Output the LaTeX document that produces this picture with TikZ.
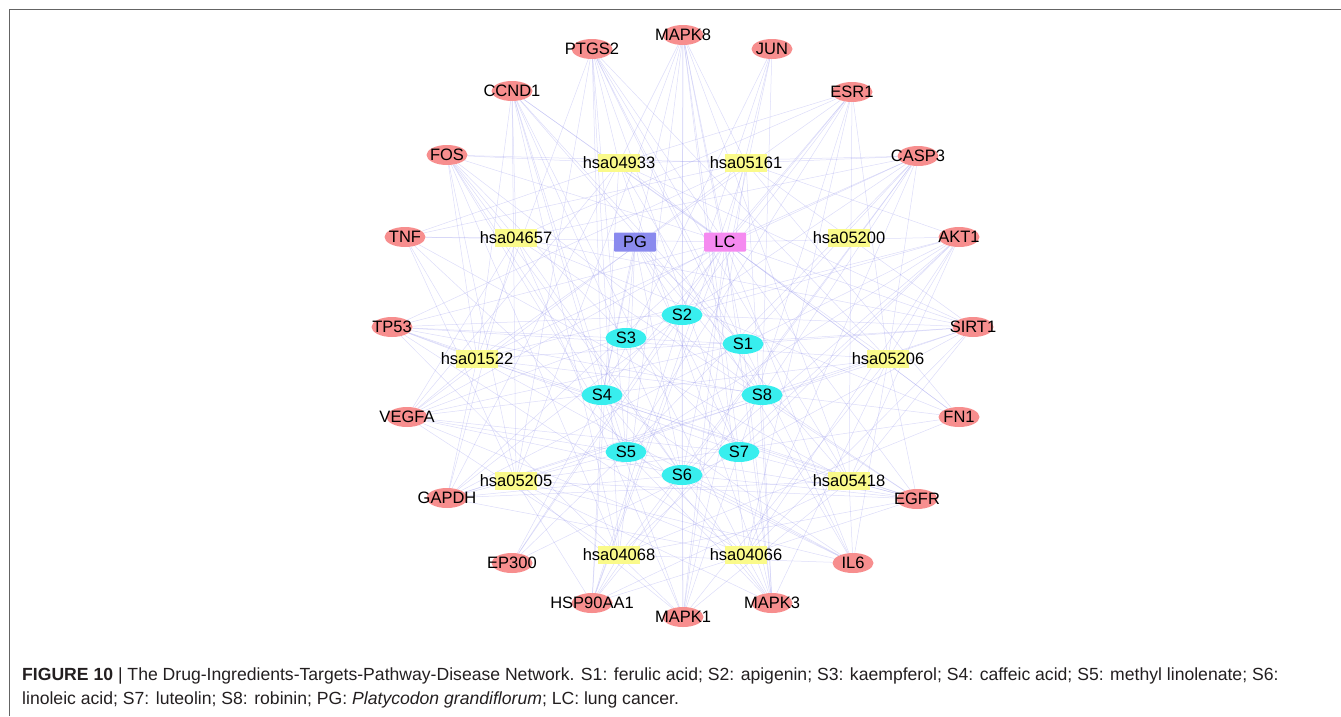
\documentclass[tikz,border=0pt]{standalone}
\usepackage{fontspec}
\setmainfont{Liberation Sans}
\usetikzlibrary{shapes.geometric,backgrounds}
\definecolor{tgtc}{RGB}{247,142,142}
\definecolor{ingc}{RGB}{56,238,238}
\definecolor{pathc}{RGB}{250,250,138}
\definecolor{pgc}{RGB}{138,138,238}
\definecolor{lcc}{RGB}{245,138,240}
\definecolor{edgec}{RGB}{150,150,235}
\definecolor{framec}{RGB}{100,100,100}
\definecolor{capc}{RGB}{35,31,32}
\newcommand{\nlbl}[1]{\makebox[0pt]{#1}}
\tikzset{
  tgt/.style={ellipse, fill=tgtc, minimum width=41pt, minimum height=20pt, inner sep=0pt},
  ing/.style={ellipse, fill=ingc, minimum width=41pt, minimum height=20pt, inner sep=0pt},
  pth/.style={rectangle, fill=pathc, minimum width=42pt, minimum height=18pt, inner sep=0pt},
  hub/.style={rectangle, rounded corners=1pt, minimum width=42pt, minimum height=19pt, inner sep=0pt},
  lnk/.style={draw=edgec, draw opacity=0.33, line width=0.5pt},
  capt/.style={anchor=base west, inner sep=0pt, text=capc, font=\fontsize{17.6}{20}\selectfont},
  framel/.style={draw=framec, line width=1.3pt}
}
\begin{document}
\begin{tikzpicture}[x=1pt, y=-1pt, font=\fontsize{16.5}{18}\selectfont]
\useasboundingbox (0,0) rectangle (1341,716);
\draw[framel] (9.5,716) -- (9.5,9.5) -- (1341,9.5);
% targets
\node[tgt] (t1) at (683,35) {\nlbl{MAPK8}};
\node[tgt] (t2) at (772,49) {\nlbl{JUN}};
\node[tgt] (t3) at (852,92) {\nlbl{ESR1}};
\node[tgt] (t4) at (918,156) {\nlbl{CASP3}};
\node[tgt] (t5) at (959,237) {\nlbl{AKT1}};
\node[tgt] (t6) at (973,327) {\nlbl{SIRT1}};
\node[tgt] (t7) at (959,417) {\nlbl{FN1}};
\node[tgt] (t8) at (917,499) {\nlbl{EGFR}};
\node[tgt] (t9) at (853,563) {\nlbl{IL6}};
\node[tgt] (t10) at (772,603) {\nlbl{MAPK3}};
\node[tgt] (t11) at (683,617) {\nlbl{MAPK1}};
\node[tgt] (t12) at (592,603) {\nlbl{HSP90AA1}};
\node[tgt] (t13) at (512,563) {\nlbl{EP300}};
\node[tgt] (t14) at (447,498) {\nlbl{GAPDH}};
\node[tgt] (t15) at (407,417) {\nlbl{VEGFA}};
\node[tgt] (t16) at (392,327) {\nlbl{TP53}};
\node[tgt] (t17) at (405,237) {\nlbl{TNF}};
\node[tgt] (t18) at (447,155) {\nlbl{FOS}};
\node[tgt] (t19) at (512,91) {\nlbl{CCND1}};
\node[tgt] (t20) at (592,49) {\nlbl{PTGS2}};
% pathways
\node[pth] (p1) at (619,163) {\nlbl{hsa04933}};
\node[pth] (p2) at (746,163) {\nlbl{hsa05161}};
\node[pth] (p3) at (849,238) {\nlbl{hsa05200}};
\node[pth] (p4) at (888,359) {\nlbl{hsa05206}};
\node[pth] (p5) at (849,481) {\nlbl{hsa05418}};
\node[pth] (p6) at (746,555) {\nlbl{hsa04066}};
\node[pth] (p7) at (619,555) {\nlbl{hsa04068}};
\node[pth] (p8) at (516,481) {\nlbl{hsa05205}};
\node[pth] (p9) at (477,359) {\nlbl{hsa01522}};
\node[pth] (p10) at (516,238) {\nlbl{hsa04657}};
% ingredients
\node[ing] (s1) at (743,344) {\nlbl{S1}};
\node[ing] (s2) at (682,315) {\nlbl{S2}};
\node[ing] (s3) at (626,338) {\nlbl{S3}};
\node[ing] (s4) at (602,395) {\nlbl{S4}};
\node[ing] (s5) at (626,452) {\nlbl{S5}};
\node[ing] (s6) at (682,475) {\nlbl{S6}};
\node[ing] (s7) at (739,452) {\nlbl{S7}};
\node[ing] (s8) at (762,395) {\nlbl{S8}};
% hubs
\node[hub, fill=pgc] (pg) at (635,242) {\nlbl{PG}};
\node[hub, fill=lcc] (lc) at (725,242) {\nlbl{LC}};
% edges
\begin{scope}[on background layer]
\foreach \j in {1,...,8} { \draw[lnk] (pg) -- (s\j); }
\foreach \i in {1,...,20} { \draw[lnk] (lc) -- (t\i); }
\foreach \i in {1,...,20} {
  \foreach \j in {1,...,8} {
    \pgfmathtruncatemacro\rr{mod(7*\i+3*\j+\i*\j,10)}
    \ifnum\rr<6 \draw[lnk] (t\i) -- (s\j); \fi
  }
  \foreach \k in {1,...,10} {
    \pgfmathtruncatemacro\rr{mod(5*\i+7*\k+2*\i*\k,11)}
    \ifnum\rr<7 \draw[lnk] (t\i) -- (p\k); \fi
  }
}
\end{scope}
% caption
\node[capt] (cap1) at (22,680) {\textbf{FIGURE 10} | The Drug-Ingredients-Targets-Pathway-Disease Network. S1: ferulic acid; S2: apigenin; S3: kaempferol; S4: caffeic acid; S5: methyl linolenate; S6:};
\node[capt] (cap2) at (22,704) {linoleic acid; S7: luteolin; S8: robinin; PG: \textit{Platycodon grandiflorum}; LC: lung cancer.};
\end{tikzpicture}
\end{document}
